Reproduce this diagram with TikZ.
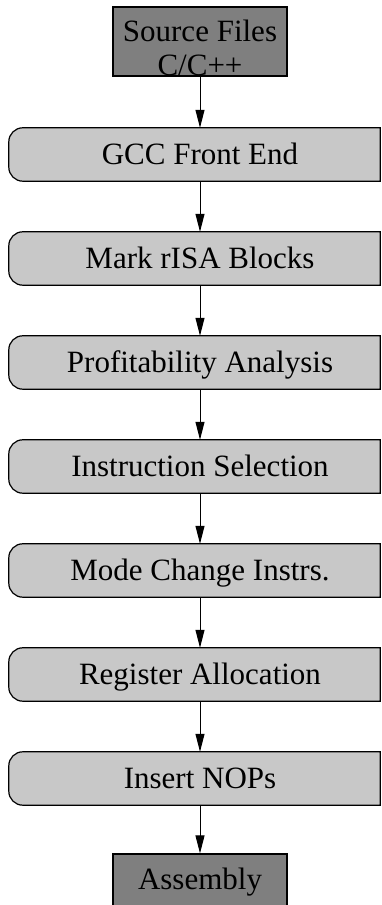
\documentclass[tikz,border=0pt]{standalone}
\usepackage{fontspec}
\setmainfont{Liberation Serif}
\usetikzlibrary{arrows.meta}
\pgfdeclarelayer{background}
\pgfsetlayers{background,main}
\definecolor{termfill}{RGB}{127,127,127}
\definecolor{passfill}{RGB}{200,200,200}
\tikzset{
  every node/.style={font=\fontsize{31}{34}\selectfont, inner sep=0pt},
  termbox/.style={rectangle, draw=black, line width=1.2pt, fill=termfill, minimum width=174pt},
  passbox/.style={rectangle, minimum width=382pt, minimum height=53pt, text height=20pt, text depth=0pt},
  passshape/.style={draw=black, line width=1.2pt, fill=passfill},
  flow/.style={-{Triangle[length=18pt,width=9pt]}, line width=1pt},
}
% outline of a compiler pass: rounded on the left, square on the right
\newcommand\drawpass[1]{%
  \begin{pgfonlayer}{background}
    \path[passshape] ([xshift=-11pt]#1.north east) -- ([xshift=14pt]#1.north west)
      arc[start angle=90, end angle=180, radius=14pt]
      -- ([yshift=14pt]#1.south west)
      arc[start angle=180, end angle=270, radius=14pt]
      -- ([xshift=-11pt]#1.south east) -- cycle;
  \end{pgfonlayer}}
\begin{document}
\begin{tikzpicture}[x=1pt,y=1pt]
\useasboundingbox (0,0) rectangle (382,905);

\node[termbox, minimum height=69pt, align=center, text height=69pt, text depth=0pt]
  (src) at (200,863.5) {Source Files\\C/C++};

\node[passbox] (gcc)  at (200,750.5) {GCC Front End};
\node[passbox] (risa) at (200,646.5) {Mark rISA Blocks};
\node[passbox] (prof) at (200,542.5) {Profitability Analysis};
\node[passbox] (isel) at (200,438.5) {Instruction Selection};
\node[passbox] (mode) at (200,334.5) {Mode Change Instrs.};
\node[passbox] (ralloc) at (200,230.5) {Register Allocation};
\node[passbox] (nops) at (200,126.5) {Insert NOPs};

\foreach \n in {gcc,risa,prof,isel,mode,ralloc,nops} {\drawpass{\n}}

\node[termbox, minimum height=70pt, text height=20pt, text depth=20pt]
  (asm) at (200,16) {Assembly};

\draw[flow] (src) -- (gcc);
\draw[flow] (gcc) -- (risa);
\draw[flow] (risa) -- (prof);
\draw[flow] (prof) -- (isel);
\draw[flow] (isel) -- (mode);
\draw[flow] (mode) -- (ralloc);
\draw[flow] (ralloc) -- (nops);
\draw[flow] (nops) -- (asm);
\end{tikzpicture}
\end{document}
